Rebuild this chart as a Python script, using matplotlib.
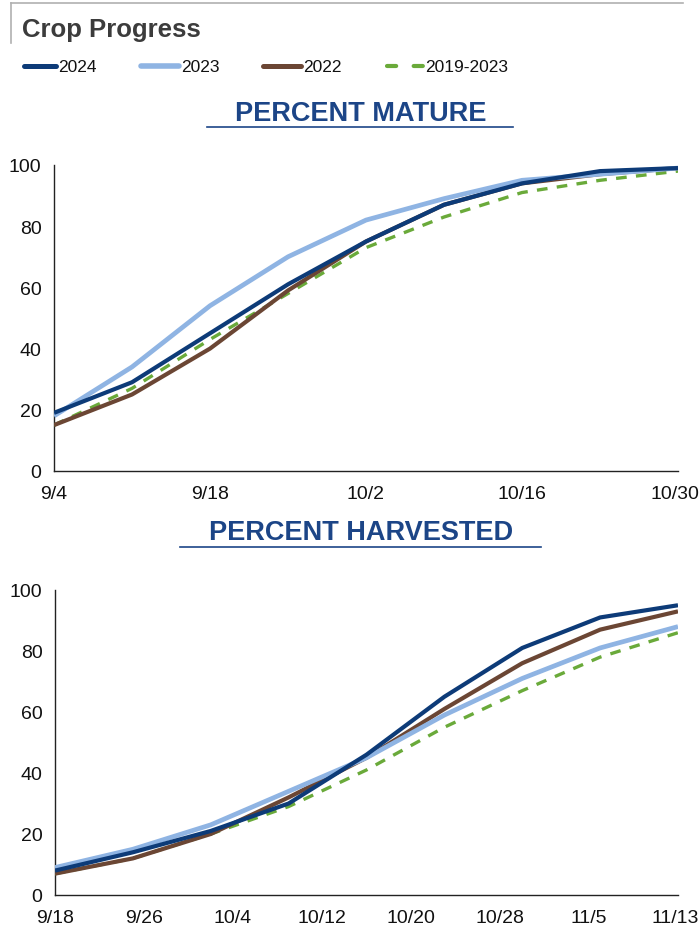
import matplotlib
matplotlib.use("Agg")
import matplotlib.pyplot as plt
import matplotlib.transforms as mtransforms
from matplotlib.lines import Line2D
import pandas as pd

# ---- data -------------------------------------------------------------
series_names = ["2024", "2023", "2022", "2019-2023"]

mature_dates = ["2024-09-04", "2024-09-11", "2024-09-18", "2024-09-25", "2024-10-02",
                "2024-10-09", "2024-10-16", "2024-10-23", "2024-10-30"]
mature_2024 = [19, 29, 45, 61, 75, 87, 94, 98, 99]
mature_2023 = [18, 34, 54, 70, 82, 89, 95, 97, 99]
mature_2022 = [15, 25, 40, 59, 75, 87, 94, 97, 99]
mature_avg = [15, 27, 43, 58, 73, 83, 91, 95, 98]
mature_ticks = ["2024-09-04", "2024-09-18", "2024-10-02", "2024-10-16", "2024-10-30"]
mature_tick_labels = ["9/4", "9/18", "10/2", "10/16", "10/30"]

harvest_dates = ["2024-09-18", "2024-09-25", "2024-10-02", "2024-10-09", "2024-10-16",
                 "2024-10-23", "2024-10-30", "2024-11-06", "2024-11-13"]
harvest_2024 = [8, 14, 21, 30, 46, 65, 81, 91, 95]
harvest_2023 = [9, 15, 23, 34, 45, 59, 71, 81, 88]
harvest_2022 = [7, 12, 20, 32, 45, 61, 76, 87, 93]
harvest_avg = [7, 12, 20, 29, 41, 55, 67, 78, 86]
harvest_ticks = ["2024-09-18", "2024-09-26", "2024-10-04", "2024-10-12", "2024-10-20",
                 "2024-10-28", "2024-11-05", "2024-11-13"]
harvest_tick_labels = ["9/18", "9/26", "10/4", "10/12", "10/20", "10/28", "11/5", "11/13"]

y_ticks = [0, 20, 40, 60, 80, 100]

# ---- styles -----------------------------------------------------------
FONT = ["Liberation Sans", "DejaVu Sans"]
styles = {
    "2024": dict(color="#0d3b78", lw=3.0, ls="-"),
    "2023": dict(color="#8fb4e3", lw=3.4, ls="-"),
    "2022": dict(color="#6b4634", lw=3.0, ls="-"),
    "2019-2023": dict(color="#6aaa3a", lw=2.4, ls=(0, (3.2, 2.8))),
}
TITLE_BLUE = "#1c4587"

fig = plt.figure(figsize=(7.0, 9.37), dpi=100)


def draw_panel(rect, dates, data, ticks, tick_labels):
    ax = fig.add_axes(rect)
    x = pd.to_datetime(dates)
    for name in ["2019-2023", "2022", "2023", "2024"]:
        st = styles[name]
        ax.plot(x, data[name], color=st["color"], lw=st["lw"], ls=st["ls"],
                solid_capstyle="butt", zorder=3)
    ax.set_xlim(x[0], x[-1])
    ax.set_ylim(0, 100)
    ax.set_yticks(y_ticks)
    ax.set_xticks(pd.to_datetime(ticks))
    ax.set_xticklabels(tick_labels)
    for s in ["top", "right"]:
        ax.spines[s].set_visible(False)
    for s in ["left", "bottom"]:
        ax.spines[s].set_color("#222222")
        ax.spines[s].set_linewidth(1.0)
    ax.tick_params(axis="both", length=0, labelsize=14, colors="#111111")
    ax.tick_params(axis="x", pad=10)
    ax.tick_params(axis="y", pad=9)
    for lab in ax.get_xticklabels() + ax.get_yticklabels():
        lab.set_family(FONT)
    # keep the final date label inside the figure edge
    last = ax.get_xticklabels()[-1]
    last.set_horizontalalignment("right")
    last.set_transform(last.get_transform() +
                       mtransforms.ScaledTranslation(21 / 100, 0, fig.dpi_scale_trans))
    ax.patch.set_alpha(0)
    return ax


draw_panel([54 / 700, 1 - 472 / 937, 624 / 700, 306 / 937], mature_dates,
           {"2024": mature_2024, "2023": mature_2023, "2022": mature_2022,
            "2019-2023": mature_avg},
           mature_ticks, mature_tick_labels)
draw_panel([55 / 700, 1 - 896 / 937, 623 / 700, 305 / 937], harvest_dates,
           {"2024": harvest_2024, "2023": harvest_2023, "2022": harvest_2022,
            "2019-2023": harvest_avg},
           harvest_ticks, harvest_tick_labels)


# ---- header -----------------------------------------------------------
def px(xp, yp):
    return xp / 700, 1 - yp / 937


fig.add_artist(Line2D([11 / 700, 683 / 700], [1 - 4 / 937] * 2, color="#b0b0b0", lw=1.2))
fig.add_artist(Line2D([11 / 700] * 2, [1 - 4 / 937, 1 - 44 / 937], color="#b0b0b0", lw=1.2))
fig.text(*px(22, 30), "Crop Progress", fontsize=18.5, fontweight="bold", color="#3c3c3c",
         family=FONT, va="center", ha="left")

# legend row
legend_items = [(24, 56), (141, 179), (263, 301), (387, 423)]
for name, (x0, x1) in zip(series_names, legend_items):
    st = styles[name]
    ls = (0, (2.2, 4.2)) if name == "2019-2023" else st["ls"]
    fig.add_artist(Line2D([x0 / 700, x1 / 700], [1 - 67 / 937] * 2, color=st["color"],
                          lw=st["lw"] + 0.6, ls=ls, solid_capstyle="round",
                          dash_capstyle="round"))
    fig.text(*px(x1 + 2, 67), name, fontsize=12.5, family=FONT, color="#111111",
             va="center", ha="left")

# panel titles with underline
for label, cx, cy, ux0, ux1, uy in [("PERCENT MATURE", 361, 114, 207, 513, 128),
                                    ("PERCENT HARVESTED", 361, 533, 180, 541, 548)]:
    fig.text(*px(cx, cy), label, fontsize=19.5, fontweight="bold", color=TITLE_BLUE,
             family=FONT, va="center", ha="center")
    fig.add_artist(Line2D([ux0 / 700, ux1 / 700], [1 - uy / 937] * 2, color=TITLE_BLUE, lw=1.2))

fig.savefig("out.png", dpi=100)
